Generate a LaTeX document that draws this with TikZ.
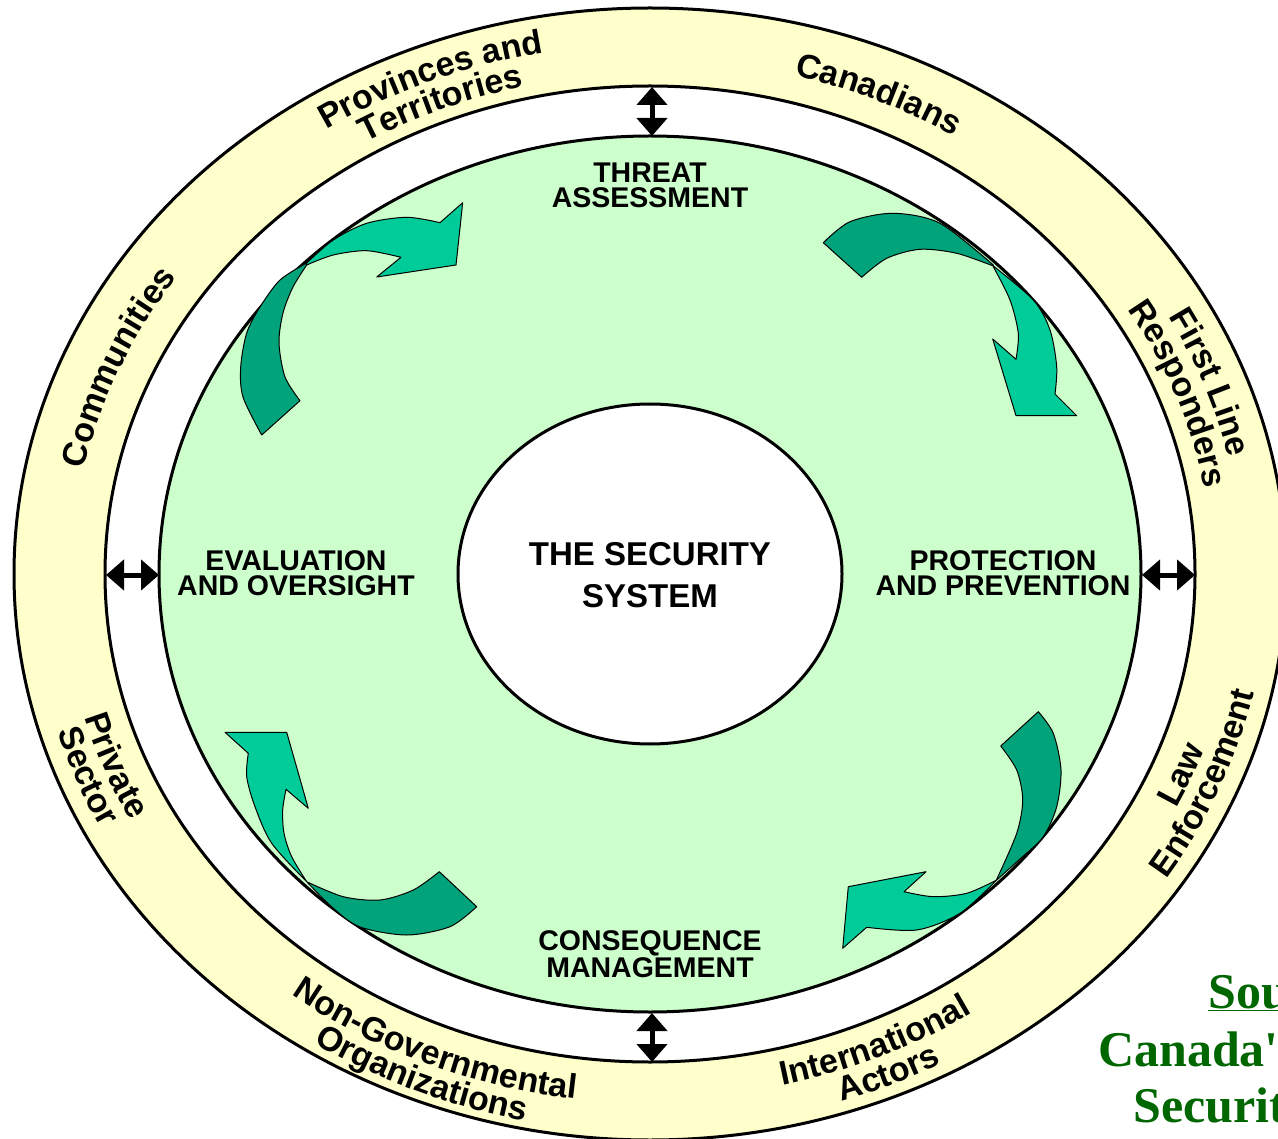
\documentclass[tikz,border=0pt]{standalone}
\usepackage{fontspec}
\setmainfont{Liberation Sans}
\newfontfamily\sourcefont{Liberation Serif}[Ligatures=TeXOff]
\usetikzlibrary{calc,arrows.meta,decorations.text}
\definecolor{ringyellow}{HTML}{FFFFCC}
\definecolor{cyclegreen}{HTML}{CCFFCC}
\definecolor{arrowlight}{HTML}{00CC99}
\definecolor{arrowdark}{HTML}{00A37A}
\definecolor{sourcegreen}{HTML}{006600}
\tikzset{
    rim/.style = {
        draw = black,
        line width = 3pt,
        },
    phase/.style = {
        font = \fontsize{28.5}{25}\selectfont\bfseries,
        align = center,
        inner sep = 0pt,
        },
    core/.style = {
        font = \fontsize{33}{42}\selectfont\bfseries,
        align = center,
        inner sep = 0pt,
        },
    link/.style = {
        line width = 5pt,
        {Triangle[width=30pt,length=18pt]}-{Triangle[width=30pt,length=18pt]},
        },
    turn back/.style = {
        fill = arrowdark,
        draw = black,
        line width = 1pt,
        line join = round,
        },
    turn head/.style = {
        fill = arrowlight,
        draw = black,
        line width = 1pt,
        line join = round,
        },
    source/.style = {
        font = \sourcefont\bfseries\fontsize{50}{50}\selectfont,
        text = sourcegreen,
        inner sep = 0pt,
        anchor = base west,
        }
}
\newcommand\ringfont{\fontsize{34}{34}\selectfont\bfseries}
% one line of text on an arc of the ring: start, end, x radius, y radius, text
\newcommand\ringline[5]{%
    \path[decorate, decoration={text along path, text align=center, text={|\ringfont|#5}}]
        ($(ctr)+(#1:#3 and #4)$) arc[start angle=#1, end angle=#2, x radius=#3, y radius=#4];}

\begin{document}
\begin{tikzpicture}[x=1pt, y=-1pt]
    \clip (0,0) rectangle (1278,1139);
    \coordinate (ctr) at (650,574);

    \filldraw[rim, fill=ringyellow] (ctr) ellipse [x radius=636, y radius=566];
    \filldraw[rim, fill=white] (ctr) ellipse [x radius=545, y radius=488];
    \filldraw[rim, fill=cyclegreen] (ctr) ellipse [x radius=491, y radius=438];
    \filldraw[rim, fill=white] (ctr) ellipse [x radius=192, y radius=170];

    % outer ring
    \ringline{-152.5}{-72.5}{593}{530}{Provinces and}
    \ringline{-152.5}{-72.5}{563}{500}{Territories}
    \ringline{-106}{-26}{578}{515}{Canadians}
    \ringline{-60}{20}{593}{530}{First Line}
    \ringline{-60}{20}{563}{500}{Responders}
    \ringline{62}{-18}{588}{525}{Law}
    \ringline{62}{-18}{618}{555}{Enforcement}
    \ringline{106}{26}{588}{525}{International}
    \ringline{106}{26}{618}{555}{Actors}
    \ringline{153}{73}{592}{529}{Non-Governmental}
    \ringline{153}{73}{621}{558}{Organizations}
    \ringline{199}{119}{588}{525}{Private}
    \ringline{199}{119}{618}{555}{Sector}
    \ringline{-197.5}{-117.5}{578}{515}{Communities}

    \coordinate (ring N) at (652,87);
    \coordinate (cycle N) at (652,136);
    \coordinate (ring S) at (652,1062);
    \coordinate (cycle S) at (652,1013);
    \coordinate (ring W) at (106,575);
    \coordinate (cycle W) at (159,575);
    \coordinate (ring E) at (1195,575);
    \coordinate (cycle E) at (1142,575);
    \draw[link] (ring N) -- (cycle N);
    \draw[link] (ring S) -- (cycle S);
    \draw[link] (ring W) -- (cycle W);
    \draw[link] (ring E) -- (cycle E);

    % curved arrows
    \filldraw[turn back] (261.7,435) -- plot[smooth] coordinates {(300,400.7) (285,377) (279,343) (283,313) (293,287) (306.7,265)}
        -- plot[smooth] coordinates {(306.7,263) (280,280) (260,307) (246.7,333) (240.7,367) (243,397) (261.7,435)} -- cycle;
    \filldraw[turn head] plot[smooth] coordinates {(306.7,263) (333.3,240) (366.7,223.3) (406.7,217.3) (440,222.7)}
        -- (462.7,202.7) -- (456,265) -- (376.7,277) -- (401,257.3)
        -- plot[smooth] coordinates {(401,257.3) (366.7,250.7) (333.3,255) (306.7,265)} -- cycle;

    \filldraw[turn back] (823.3,242.7) -- plot[smooth] coordinates {(861.7,277.3) (886.7,258.3) (920,249.3) (956.7,253.3) (993.3,266)}
        -- plot[smooth] coordinates {(993.3,265) (940,223.3) (893.3,213.3) (850,221.7) (823.3,242.7)} -- cycle;
    \filldraw[turn head] plot[smooth] coordinates {(993.3,266) (1033.3,300) (1050,330) (1056.7,366.7) (1055,394)}
        -- (1076.7,415.7) -- (1016,415.7) -- (992.7,339) -- (1016,359.3)
        -- plot[smooth] coordinates {(1016,359.3) (1018.3,333.3) (1010,300) (993.3,266.7)} -- cycle;

    \filldraw[turn back] (1000.7,746) -- plot[smooth] coordinates {(1038.3,711.7) (1053.3,733.3) (1061,770) (1056.7,806.7) (1043.3,836.7) (1020,859) (996.7,880)}
        -- plot[smooth] coordinates {(996.7,879.3) (1016.7,833.3) (1022.7,800) (1016.7,770) (1000.7,746)} -- cycle;
    \filldraw[turn head] plot[smooth] coordinates {(996.7,880) (960,913.3) (916.7,930) (866.7,927.3)}
        -- (842.7,948.3) -- (848.3,886.7) -- (926,871.7) -- (904,891.7)
        -- plot[smooth] coordinates {(904,891.7) (933.3,896.7) (966.7,893.3) (996.7,880)} -- cycle;

    \filldraw[turn back] (439.3,871.7) -- plot[smooth] coordinates {(476.7,906.7) (450,926.7) (406.7,935) (360,927) (333,908) (306.7,881.7)}
        -- plot[smooth] coordinates {(306.7,881.7) (343.3,896.7) (380,900) (413.3,890) (439.3,871.7)} -- cycle;
    \filldraw[turn head] plot[smooth] coordinates {(306.7,881.7) (271.7,843.3) (255,806.7) (246.7,776.7) (248.3,753.3)}
        -- (225,732.3) -- (286.7,732.3) -- (308.3,808.3) -- (286,789.3)
        -- plot[smooth] coordinates {(286,789.3) (282.7,810) (284,833.3) (291.7,856.7) (306.7,881.7)} -- cycle;

    \node[phase] (threat) at (650,185.5) {THREAT\\ASSESSMENT};
    \node[phase] (protect) at (1003,573) {PROTECTION\\AND PREVENTION};
    \node[phase] (conseq) at (650,954) {CONSEQUENCE\\MANAGEMENT};
    \node[phase] (evaluate) at (296,573) {EVALUATION\\AND OVERSIGHT};
    \node[core] (system) at (650,575.5) {THE SECURITY\\SYSTEM};

    \node[source] (src1) at (1208,1008) {\underline{Sou}};
    \node[source] (src2) at (1098,1066) {Canada's};
    \node[source] (src3) at (1133,1122) {Securit};
\end{tikzpicture}
\end{document}
